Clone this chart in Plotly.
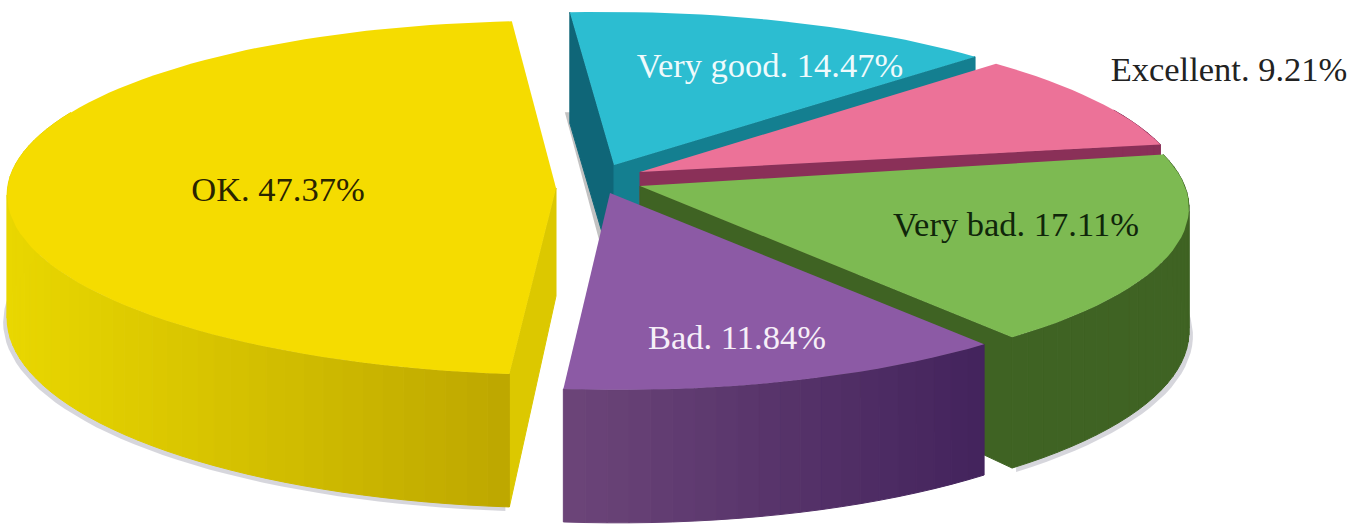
import math
import plotly.graph_objects as go

# ---- data ----
categories = ["Very good", "Excellent", "Very bad", "Bad", "OK"]
percent = [14.47, 9.21, 17.11, 11.84, 47.37]

# ---- styling ----
top_colors = ["#2CBDD1", "#EC7298", "#7DBA52", "#8C5AA5", "#F5DC00"]
wall_left = ["#147F90", "#8A3058", "#3F6323", "#6C4579", "#E9D700"]
wall_right = ["#147F90", "#8A3058", "#3F6323", "#43235C", "#BDA700"]
cut_start = ["#0F6678", None, None, None, "#DCC800"]
cut_end = ["#147F90", "#8A3058", "#3F6323", None, None]
text_colors = ["#EFFAFC", "#222222", "#10260A", "#F6EFF8", "#2A2400"]
explode = [(614, 165), (640, 172), (640, 186), (610, 193), (556, 188)]
rim_offset = [(0, 0), (-5, 0), (-2, -4), (0, -4), (0, -14)]
label_pos = [(770, 68), (1229, 72), (1016, 227), (737, 340), (278, 192)]

RX, RY, PERSP, SKEW = 545, 177, 0.135, 8
DEPTH, DEPTH_PERSP, APEX_DEPTH = 122, 0.09, 108
START = -4.4
SHADOW = (-4, 4)


def rim(cx, cy, deg, off):
    t = math.radians(deg)
    p = 1 - PERSP * math.cos(t)
    return (cx + off[0] + RX * math.sin(t) * p - SKEW * math.cos(t),
            cy + off[1] - RY * math.cos(t) * p)


def depth(deg):
    return DEPTH * (1 - DEPTH_PERSP * math.cos(math.radians(deg)))


def mix(a, b, f):
    ca = [int(a[i:i + 2], 16) for i in (1, 3, 5)]
    cb = [int(b[i:i + 2], 16) for i in (1, 3, 5)]
    return "rgb(%d,%d,%d)" % tuple(round(x + (y - x) * f) for x, y in zip(ca, cb))


def poly(fig, pts, color, line=True):
    xs = [p[0] for p in pts] + [pts[0][0]]
    ys = [p[1] for p in pts] + [pts[0][1]]
    fig.add_trace(go.Scatter(
        x=xs, y=ys, mode="lines", fill="toself", fillcolor=color,
        line=dict(color=color, width=1 if line else 0),
        hoverinfo="skip", showlegend=False))


fig = go.Figure()

# slice angular extents, derived from the values
edges = [START]
for v in percent:
    edges.append(edges[-1] + v * 3.6)

for i in range(len(categories)):
    a0, a1 = edges[i], edges[i + 1]
    cx, cy = explode[i]
    off = rim_offset[i]
    n = max(4, int((a1 - a0) / 2))
    angles = [a0 + (a1 - a0) * k / n for k in range(n + 1)]
    outer = [rim(cx, cy, a, off) for a in angles]

    # soft shadow under the visible walls
    if i in (2, 4):
        sh = [(x + (SHADOW[0] if i == 4 else -SHADOW[0]), y + depth(a) + SHADOW[1])
              for (x, y), a in zip(outer, angles) if math.cos(math.radians(a)) < 0.3]
        if sh:
            poly(fig, sh + [(sh[-1][0], sh[-1][1] - 60), (sh[0][0], sh[0][1] - 60)],
                 "rgba(120,120,140,0.3)", line=False)

    # cut face at the start of the slice
    if cut_start[i]:
        x, y = outer[0]
        if i == 0:  # faint shadow next to the left face
            poly(fig, [(x - 5, y + 100), (x, y + 100), (cx, cy + APEX_DEPTH), (cx - 5, cy + APEX_DEPTH + 4)],
                 "rgba(120,120,120,0.45)", line=False)
        poly(fig, [(x, y), (cx, cy), (cx, cy + APEX_DEPTH), (x, y + depth(a0))], cut_start[i])
    # cut face at the end of the slice
    if cut_end[i]:
        x, y = outer[-1]
        poly(fig, [(x, y), (cx, cy), (cx, cy + APEX_DEPTH), (x, y + depth(a1))], cut_end[i])

    # outer wall, front part only, in thin shaded strips
    front = [k for k in range(n) if math.cos(math.radians(angles[k])) < 0.35
             or math.cos(math.radians(angles[k + 1])) < 0.35]
    if front:
        vis = [outer[k][0] for k in front] + [outer[k + 1][0] for k in front]
        xmin, xmax = min(vis), max(vis)
        for k in front:
            (x1, y1), (x2, y2) = outer[k], outer[k + 1]
            f = ((x1 + x2) / 2 - xmin) / max(1, xmax - xmin)
            poly(fig, [(x1, y1), (x2, y2), (x2, y2 + depth(angles[k + 1])),
                       (x1, y1 + depth(angles[k]))], mix(wall_left[i], wall_right[i], f))

    # top surface
    poly(fig, [(cx, cy)] + outer, top_colors[i], line=False)

labels = [f"{c}. {v:.2f}%" for c, v in zip(categories, percent)]
fig.add_trace(go.Scatter(
    x=[p[0] for p in label_pos], y=[p[1] for p in label_pos],
    mode="text", text=labels, textposition="middle center",
    textfont=dict(family="Liberation Serif", size=34.5, color=text_colors),
    hoverinfo="skip", showlegend=False))

fig.update_layout(
    width=1366, height=526, margin=dict(l=0, r=0, t=0, b=0),
    paper_bgcolor="white", plot_bgcolor="white", showlegend=False,
    xaxis=dict(range=[0, 1366], visible=False, fixedrange=True),
    yaxis=dict(range=[526, 0], visible=False, fixedrange=True),
)
fig.write_html("out.html", post_script="document.body.style.margin='0';document.body.style.overflow='hidden';",
               config={"displayModeBar": False})
